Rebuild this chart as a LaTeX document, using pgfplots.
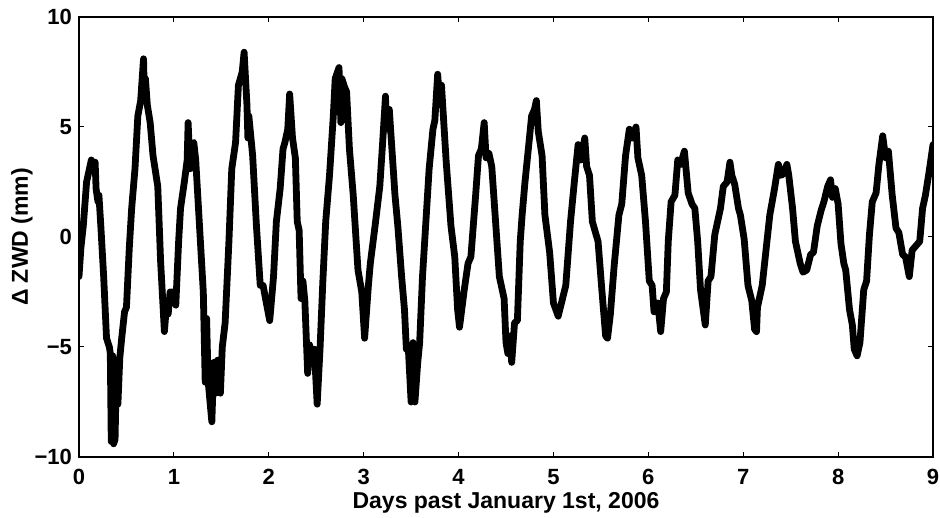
\documentclass[border=0pt]{standalone}
\usepackage{fontspec}
\setmainfont{Liberation Sans}
\usepackage{pgfplots}
\pgfplotsset{compat=1.18}
\begin{document}
\begin{tikzpicture}
\begin{axis}[
  name=ax,
  scale only axis,
  width=427pt, height=220pt,
  xmin=0, xmax=9, ymin=-10, ymax=10,
  xtick={0,1,2,3,4,5,6,7,8,9},
  ytick={-10,-5,0,5,10},
  yticklabels={−10,−5,0,5,10},
  tick align=inside,
  major tick length=2.5pt,
  axis line style={line width=0.6pt},
  every tick/.style={black, line width=0.5pt},
  /pgf/number format/assume math mode=true,
  tick label style={font=\fontsize{11}{12}\selectfont\bfseries},
  xticklabel style={anchor=center, yshift=-10pt},
  every axis x label/.style={at={(axis description cs:0.5,-0.1045)}, anchor=center},
  every axis y label/.style={at={(axis description cs:-0.0667,0.5)}, anchor=center, rotate=90},
  label style={font=\fontsize{11.5}{13}\selectfont\bfseries},
  xlabel={Days past January 1st, 2006},
  ylabel={Δ ZWD (mm)},
]
\addplot[black, line width=3.4pt, line join=round, line cap=round] coordinates {
(0.00,-1.8) (0.02,-0.5) (0.045,0.5) (0.08,2.5) (0.10,2.9) (0.13,3.5) (0.15,3.0) (0.17,3.4) (0.18,2.2) (0.20,1.6) (0.21,1.9) (0.23,0.5)
(0.26,-1.8) (0.29,-4.6) (0.32,-5.0) (0.33,-5.3) (0.34,-9.3) (0.355,-5.4) (0.365,-9.4) (0.38,-9.2) (0.39,-7.0) (0.41,-7.6) (0.43,-5.5)
(0.45,-4.6) (0.48,-3.4) (0.50,-3.2) (0.53,-0.5) (0.555,1.3) (0.59,3.1) (0.62,5.5) (0.65,6.2) (0.68,8.1) (0.69,6.3) (0.70,7.2) (0.72,6.0)
(0.75,5.2) (0.78,3.7) (0.83,2.3) (0.86,-1.1) (0.90,-4.3) (0.92,-3.2) (0.94,-3.5) (0.96,-2.5) (0.99,-2.5) (1.02,-3.1) (1.05,-0.2)
(1.07,1.3) (1.11,2.5) (1.14,3.5) (1.15,5.2) (1.17,3.1) (1.18,4.2) (1.21,4.3) (1.23,3.5) (1.27,0.5) (1.31,-2.5) (1.33,-6.6) (1.345,-3.7)
(1.36,-6.5) (1.40,-8.4) (1.42,-5.7) (1.44,-7.1) (1.46,-5.6) (1.49,-7.1) (1.51,-5.0) (1.54,-3.9) (1.58,-0.2) (1.61,3.1) (1.65,4.3)
(1.68,6.9) (1.72,7.5) (1.74,8.4) (1.77,6.0) (1.78,4.5) (1.79,5.5) (1.83,3.7) (1.87,0.5) (1.91,-2.2) (1.94,-2.2) (1.97,-2.9) (2.01,-3.8)
(2.05,-1.8) (2.08,0.7) (2.12,2.2) (2.15,4.0) (2.17,4.3) (2.20,4.9) (2.22,6.5) (2.25,4.5) (2.28,3.6) (2.30,0.7) (2.32,0.3) (2.34,-2.8)
(2.36,-2.0) (2.38,-2.9) (2.41,-6.2) (2.43,-4.9) (2.46,-5.7) (2.48,-5.1) (2.51,-7.6) (2.54,-5.1) (2.57,-2.0) (2.60,0.7) (2.64,2.8)
(2.68,5.5) (2.70,7.2) (2.74,7.7) (2.76,5.2) (2.77,7.2) (2.80,6.8) (2.82,6.6) (2.85,4.0) (2.89,1.9) (2.94,-1.5) (2.98,-2.5) (3.01,-4.6)
(3.05,-2.2) (3.07,-1.2) (3.12,0.5) (3.17,2.3) (3.20,4.3) (3.23,6.4) (3.24,4.9) (3.27,5.8) (3.29,4.5) (3.33,1.9) (3.36,0.5) (3.40,-1.8)
(3.43,-3.3) (3.45,-5.1) (3.47,-5.0) (3.50,-7.5) (3.52,-4.8) (3.54,-7.5) (3.57,-5.7) (3.59,-4.8) (3.62,-1.8) (3.66,1.0) (3.69,3.1)
(3.73,4.9) (3.75,5.3) (3.78,7.4) (3.80,6.2) (3.82,6.9) (3.84,5.5) (3.87,3.4) (3.92,0.5) (3.96,-0.9) (3.99,-3.3) (4.01,-4.1) (4.06,-2.4)
(4.10,-1.2) (4.13,-0.9) (4.18,1.9) (4.21,3.7) (4.24,4.0) (4.27,5.2) (4.29,3.6) (4.32,3.8) (4.35,3.2) (4.39,0.7) (4.43,-1.8) (4.48,-2.8)
(4.50,-4.8) (4.52,-5.3) (4.54,-4.5) (4.56,-5.7) (4.59,-3.9) (4.62,-3.8) (4.65,-0.2) (4.67,1.0) (4.70,2.5) (4.74,4.2) (4.77,5.5)
(4.80,5.8) (4.82,6.2) (4.84,4.8) (4.88,3.7) (4.91,1.0) (4.96,-0.7) (5.00,-3.0) (5.05,-3.6) (5.09,-2.9) (5.13,-2.2) (5.18,0.7) (5.22,2.5)
(5.26,4.2) (5.29,3.5) (5.33,4.5) (5.35,3.2) (5.38,2.8) (5.41,0.7) (5.47,-0.2) (5.51,-2.4) (5.55,-4.5) (5.57,-4.6) (5.60,-3.5)
(5.64,-1.3) (5.69,1.0) (5.72,1.5) (5.76,3.7) (5.80,4.9) (5.83,4.5) (5.87,5.0) (5.89,3.6) (5.93,2.8) (5.97,0.7) (6.01,-2.0) (6.04,-2.2)
(6.06,-3.4) (6.08,-3.2) (6.10,-3.0) (6.13,-4.3) (6.16,-2.8) (6.19,-2.5) (6.21,-0.2) (6.24,1.6) (6.28,1.9) (6.31,3.5) (6.34,3.3)
(6.38,3.9) (6.42,2.0) (6.46,1.5) (6.49,1.3) (6.52,-0.2) (6.55,-2.4) (6.60,-4.0) (6.63,-2.0) (6.66,-1.8) (6.70,0.1) (6.76,1.3) (6.79,2.3)
(6.83,2.5) (6.86,3.4) (6.88,2.8) (6.91,2.4) (6.95,1.3) (6.97,1.0) (7.01,-0.1) (7.05,-2.2) (7.09,-2.9) (7.12,-4.2) (7.14,-4.3)
(7.15,-3.2) (7.20,-2.2) (7.24,-0.6) (7.28,1.0) (7.33,2.2) (7.37,3.3) (7.40,2.8) (7.43,2.9) (7.46,3.3) (7.48,2.8) (7.52,1.3) (7.55,-0.2)
(7.60,-1.2) (7.63,-1.6) (7.67,-1.5) (7.71,-0.8) (7.74,-0.7) (7.78,0.5) (7.82,1.2) (7.85,1.6) (7.89,2.3) (7.92,2.6) (7.94,1.8) (7.97,2.2)
(8.00,1.5) (8.03,-0.3) (8.06,-1.2) (8.08,-1.5) (8.12,-3.3) (8.15,-4.0) (8.17,-5.1) (8.20,-5.4) (8.23,-4.8) (8.27,-2.4) (8.30,-2.0)
(8.33,0.1) (8.36,1.6) (8.40,2.0) (8.43,3.3) (8.47,4.6) (8.50,3.6) (8.53,3.9) (8.57,1.9) (8.61,0.4) (8.64,0.2) (8.68,-0.8) (8.71,-0.9)
(8.75,-1.8) (8.78,-0.6) (8.82,-0.4) (8.86,-0.2) (8.89,1.3) (8.92,1.9) (8.96,3.0) (9.00,4.2)
};
\end{axis}
\pgfresetboundingbox
\path[use as bounding box] ([shift={(-39.5pt,-30.5pt)}]ax.south west) rectangle ([shift={(3.5pt,8.5pt)}]ax.north east);
\end{tikzpicture}
\end{document}
